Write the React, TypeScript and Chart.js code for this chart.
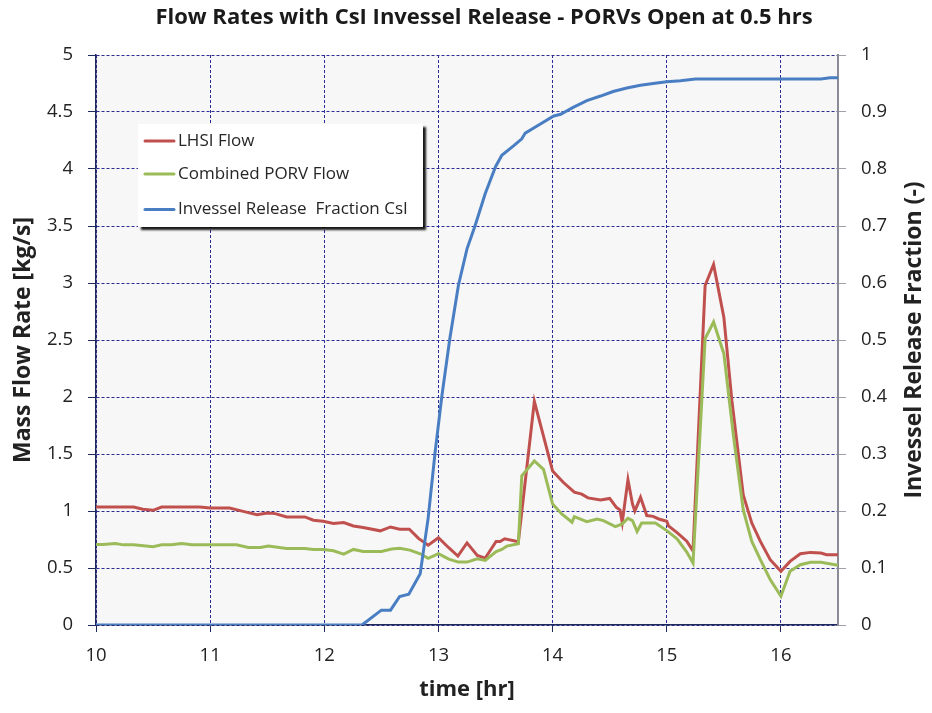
import { useEffect, useRef } from "react";
import { Chart, registerables } from "chart.js";

Chart.register(...registerables);

const chartTitle = "Flow Rates with CsI Invessel Release - PORVs Open at 0.5 hrs";
const xTitle = "time [hr]";
const yTitle = "Mass Flow Rate [kg/s]";
const y1Title = "Invessel Release Fraction (-)";
const seriesLabels = ["LHSI Flow", "Combined PORV Flow", "Invessel Release  Fraction CsI"];
const seriesColors = ["#C0504D", "#9BBB59", "#4A7EC3"];

const lhsiTime = [
  10.0, 10.33, 10.41, 10.5, 10.575, 10.91, 11.0, 11.17, 11.29, 11.41, 11.5, 11.57, 11.67, 11.83,
  11.905, 11.99, 12.08, 12.17, 12.255, 12.34, 12.49, 12.58, 12.66, 12.745, 12.825, 12.91, 13.0,
  13.09, 13.17, 13.25, 13.34, 13.41, 13.505, 13.54, 13.58, 13.7, 13.84, 13.92, 14.0, 14.095,
  14.19, 14.255, 14.31, 14.42, 14.5, 14.56, 14.59, 14.61, 14.66, 14.7, 14.72, 14.77, 14.825,
  14.88, 14.93, 15.0, 15.015, 15.09, 15.175, 15.23, 15.336, 15.41, 15.5, 15.57, 15.67, 15.745,
  15.82, 15.906, 16.0, 16.08, 16.17, 16.26, 16.35, 16.4, 16.5,
];
const lhsiFlow = [
  1.035, 1.035, 1.015, 1.006, 1.035, 1.035, 1.026, 1.026, 0.997, 0.968, 0.983, 0.977, 0.948, 0.948,
  0.919, 0.91, 0.89, 0.898, 0.869, 0.855, 0.826, 0.86, 0.84, 0.84, 0.76, 0.7, 0.765,
  0.678, 0.605, 0.72, 0.61, 0.587, 0.733, 0.733, 0.756, 0.73, 1.962, 1.657, 1.35, 1.25,
  1.165, 1.148, 1.115, 1.096, 1.11, 1.03, 1.01, 0.9, 1.275, 1.06, 1.0, 1.12, 0.96,
  0.953, 0.93, 0.91, 0.87, 0.81, 0.735, 0.65, 2.978, 3.162, 2.7, 1.972, 1.141, 0.894,
  0.733, 0.573, 0.471, 0.558, 0.625, 0.637, 0.631, 0.617, 0.617,
];

const porvTime = [
  10.0, 10.06, 10.17, 10.24, 10.33, 10.5, 10.575, 10.66, 10.75, 10.84, 11.23, 11.335, 11.44, 11.51,
  11.67, 11.83, 11.905, 11.99, 12.08, 12.17, 12.255, 12.34, 12.5, 12.59, 12.66, 12.75, 12.84,
  12.91, 13.0, 13.09, 13.175, 13.25, 13.34, 13.41, 13.505, 13.555, 13.6, 13.7, 13.73, 13.84,
  13.92, 14.0, 14.08, 14.17, 14.19, 14.3, 14.39, 14.445, 14.55, 14.61, 14.66, 14.7, 14.74,
  14.78, 14.9, 15.0, 15.09, 15.175, 15.23, 15.336, 15.41, 15.5, 15.585, 15.67, 15.745, 15.82,
  15.906, 16.0, 16.08, 16.17, 16.26, 16.35, 16.5,
];
const porvFlow = [
  0.706, 0.706, 0.715, 0.703, 0.703, 0.686, 0.703, 0.703, 0.715, 0.703, 0.703, 0.68, 0.68, 0.692,
  0.672, 0.672, 0.663, 0.663, 0.651, 0.622, 0.663, 0.645, 0.645, 0.666, 0.674, 0.657, 0.625,
  0.585, 0.625, 0.578, 0.552, 0.552, 0.581, 0.567, 0.645, 0.663, 0.692, 0.712, 1.308, 1.439,
  1.366, 1.061, 0.974, 0.901, 0.951, 0.907, 0.93, 0.916, 0.863, 0.887, 0.936, 0.916, 0.82,
  0.895, 0.895, 0.828, 0.756, 0.64, 0.544, 2.512, 2.658, 2.38, 1.652, 1.01, 0.733, 0.573,
  0.398, 0.252, 0.471, 0.529, 0.55, 0.55, 0.525,
];

const csiTime = [
  10.0, 12.33, 12.5, 12.58, 12.66, 12.74, 12.84, 12.91, 12.97, 13.03, 13.1, 13.175, 13.25, 13.32,
  13.41, 13.5, 13.555, 13.66, 13.73, 13.76, 13.86, 14.01, 14.07, 14.18, 14.3, 14.42, 14.53, 14.65,
  14.77, 14.88, 15.0, 15.12, 15.25, 16.35, 16.43, 16.5,
];
const csiFraction = [
  0, 0, 0.026, 0.026, 0.05, 0.054, 0.09, 0.188, 0.302, 0.402, 0.503, 0.596, 0.66, 0.7,
  0.757, 0.804, 0.824, 0.841, 0.853, 0.863, 0.875, 0.893, 0.896, 0.908, 0.92, 0.928, 0.936, 0.942,
  0.947, 0.95, 0.953, 0.955, 0.958, 0.958, 0.96, 0.96,
];

const FONT = "'Open Sans', Lato, sans-serif";
const TEXT = "#222222";
const GRID = "#2b2b96";
const NAVY = "#1f2a5c";

function pts(xs: number[], ys: number[]) {
  return xs.map((x, i) => ({ x, y: ys[i] }));
}

function fmt(v: any) {
  return String(Number(Number(v).toFixed(2)));
}

export default function App() {
  const ref = useRef<HTMLCanvasElement>(null);

  useEffect(() => {
    document.body.style.margin = "0";
    const canvas = ref.current;
    if (!canvas) return;

    const bgPlugin = {
      id: "plotBg",
      beforeDraw(chart: any) {
        const { ctx, chartArea: a } = chart;
        ctx.save();
        ctx.fillStyle = "#ffffff";
        ctx.fillRect(0, 0, chart.width, chart.height);
        ctx.fillStyle = "#f7f7f7";
        ctx.fillRect(a.left, a.top, a.right - a.left, a.bottom - a.top);
        ctx.restore();
      },
    };

    const overlayPlugin = {
      id: "overlay",
      afterDraw(chart: any) {
        const { ctx, chartArea: a } = chart;
        ctx.save();
        // title
        ctx.fillStyle = "#1a1a1a";
        ctx.font = `bold 22px ${FONT}`;
        ctx.textAlign = "center";
        ctx.textBaseline = "alphabetic";
        ctx.fillText(chartTitle, 484, 24);
        // right axis title (reads bottom to top)
        ctx.save();
        ctx.translate(921, (a.top + a.bottom) / 2);
        ctx.rotate(-Math.PI / 2);
        ctx.font = `bold 23px ${FONT}`;
        ctx.fillStyle = TEXT;
        ctx.textAlign = "center";
        ctx.textBaseline = "alphabetic";
        ctx.fillText(y1Title, 0, 0);
        ctx.restore();
        // legend
        const bx = 138, by = 124, bw = 285, bh = 103;
        ctx.save();
        ctx.shadowColor = "rgba(0,0,0,0.9)";
        ctx.shadowOffsetX = 3;
        ctx.shadowOffsetY = 3;
        ctx.shadowBlur = 2;
        ctx.fillStyle = "#ffffff";
        ctx.fillRect(bx, by, bw, bh);
        ctx.restore();
        const rows = [141, 174, 209.5];
        chart.data.datasets.forEach((ds: any, i: number) => {
          const y = rows[i];
          ctx.strokeStyle = ds.borderColor;
          ctx.lineWidth = 3;
          ctx.lineCap = "round";
          ctx.beginPath();
          ctx.moveTo(145, y);
          ctx.lineTo(174, y);
          ctx.stroke();
          ctx.fillStyle = "#262626";
          ctx.font = `17px ${FONT}`;
          ctx.textAlign = "left";
          ctx.textBaseline = "middle";
          ctx.fillText(ds.label, 178, y);
        });
        ctx.restore();
      },
    };

    const chart = new Chart(canvas, {
      type: "line",
      data: {
        datasets: [
          {
            label: seriesLabels[0],
            data: pts(lhsiTime, lhsiFlow),
            borderColor: seriesColors[0],
            backgroundColor: seriesColors[0],
            borderWidth: 3,
            pointRadius: 0,
            tension: 0,
            yAxisID: "y",
            order: 3,
          },
          {
            label: seriesLabels[1],
            data: pts(porvTime, porvFlow),
            borderColor: seriesColors[1],
            backgroundColor: seriesColors[1],
            borderWidth: 3,
            pointRadius: 0,
            tension: 0,
            yAxisID: "y",
            order: 2,
          },
          {
            label: seriesLabels[2],
            data: pts(csiTime, csiFraction),
            borderColor: seriesColors[2],
            backgroundColor: seriesColors[2],
            borderWidth: 3,
            pointRadius: 0,
            tension: 0,
            yAxisID: "y1",
            order: 1,
          },
        ],
      },
      options: {
        animation: false,
        responsive: false,
        devicePixelRatio: 1,
        layout: { padding: { top: 55, left: 0, right: 0, bottom: 0 } },
        plugins: {
          legend: { display: false },
          title: { display: false },
          tooltip: { enabled: false },
        },
        scales: {
          x: {
            type: "linear",
            position: "bottom",
            min: 10,
            max: 16.5,
            ticks: {
              stepSize: 1,
              includeBounds: false,
              color: TEXT,
              font: { family: FONT, size: 18.5 },
              padding: 13,
              maxRotation: 0,
              callback: fmt,
            },
            grid: {
              color: GRID,
              lineWidth: 1,
              tickLength: 7,
              tickColor: NAVY,
              tickBorderDash: [],
            },
            border: { color: NAVY, width: 1.5, dash: [3, 2] },
            title: {
              display: true,
              text: xTitle,
              color: TEXT,
              font: { family: FONT, size: 22, weight: "bold" },
              padding: { top: 0, bottom: 10 },
            },
            afterFit(s: any) {
              s.height = 88;
            },
          },
          y: {
            type: "linear",
            position: "left",
            min: 0,
            max: 5,
            ticks: {
              stepSize: 0.5,
              color: TEXT,
              font: { family: FONT, size: 18.5 },
              padding: 15,
              callback: fmt,
            },
            grid: {
              color: GRID,
              lineWidth: 1,
              tickLength: 8,
              tickColor: NAVY,
              tickBorderDash: [],
            },
            border: { color: NAVY, width: 1.5, dash: [3, 2] },
            title: {
              display: true,
              text: yTitle,
              color: TEXT,
              font: { family: FONT, size: 23, weight: "bold" },
              padding: { top: 10, bottom: 0 },
            },
            afterFit(s: any) {
              s.width = 96;
            },
          },
          y1: {
            type: "linear",
            position: "right",
            min: 0,
            max: 1,
            ticks: {
              stepSize: 0.1,
              color: TEXT,
              font: { family: FONT, size: 18.5 },
              padding: 15,
              callback: fmt,
            },
            grid: {
              drawOnChartArea: false,
              tickLength: 8,
              tickColor: "#a0a0a8",
              tickBorderDash: [],
            },
            border: { color: "#8a8a98", width: 2 },
            afterFit(s: any) {
              s.width = 94;
            },
          },
        },
      },
      plugins: [bgPlugin, overlayPlugin],
    } as any);

    return () => chart.destroy();
  }, []);

  return (
    <div style={{ position: "relative", width: 932, height: 713 }}>
      <canvas ref={ref} width={932} height={713} style={{ display: "block" }} />
    </div>
  );
}
